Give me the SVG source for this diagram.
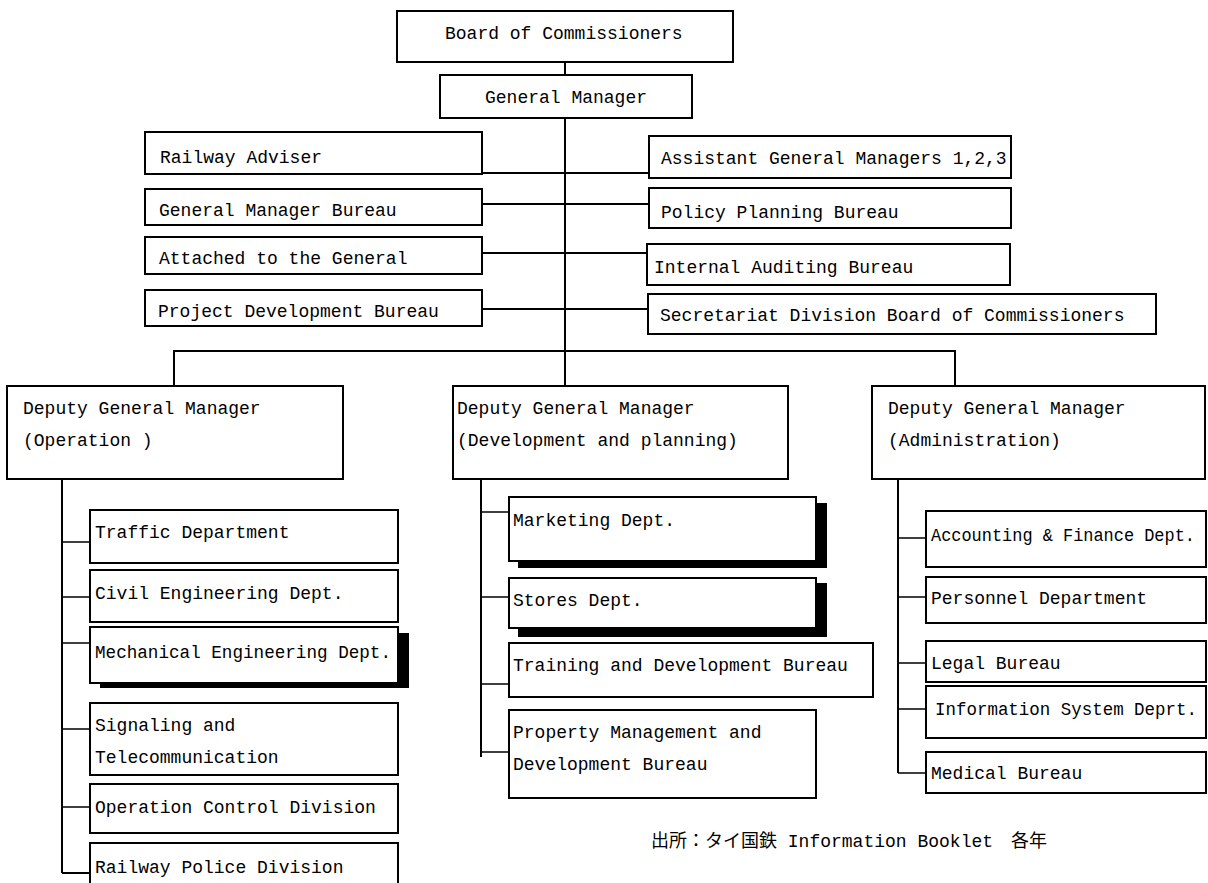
<svg xmlns="http://www.w3.org/2000/svg" width="1208" height="883" viewBox="0 0 1208 883">
<style>
.b{fill:#fff;stroke:#000;stroke-width:2}
.s{fill:#000;stroke:none}
.t{font-family:"Liberation Mono","DejaVu Sans Mono",monospace;font-size:18px;fill:#000}
.n{font-family:"Liberation Mono","Noto Sans CJK JP",monospace;font-size:18px;fill:#000}
.c{fill:none;stroke:#000;stroke-width:2}
.c2{fill:none;stroke:#000;stroke-width:1.5}
</style>
<rect width="1208" height="883" fill="#fff"/>
<g id="connectors">
<path class="c" d="M565 62V75M565 118V386M482 173H649M482 204H649M482 253H647M482 309H648M174 386V351H955V386"/>
<path class="c" d="M62 479V873M481 479V757M898 479V773"/>
<path class="c2" d="M62 542H90M62 597H90M62 643H90M62 729H90M62 807H90M481 512H509M481 597H509M481 684H509M481 752H509M898 538H926M898 597H926M898 663H926M898 709H926M898 773H926"/>
<path class="c" d="M62 873H90" stroke-width="2.5"/>
</g>
<g id="board"><rect class="b" x="397" y="11" width="336" height="51"/><text class="t" x="445" y="39">Board of Commissioners</text></g>
<g id="gm"><rect class="b" x="440" y="75" width="252" height="43"/><text class="t" x="485" y="103">General Manager</text></g>
<g id="railway-adviser"><rect class="b" x="145" y="132" width="337" height="42"/><text class="t" x="160" y="163">Railway Adviser</text></g>
<g id="gm-bureau"><rect class="b" x="145" y="189" width="337" height="36"/><text class="t" x="159" y="216">General Manager Bureau</text></g>
<g id="attached"><rect class="b" x="145" y="237" width="337" height="37"/><text class="t" x="159" y="264">Attached to the General</text></g>
<g id="project-dev"><rect class="b" x="145" y="290" width="337" height="36"/><text class="t" x="158" y="317">Project Development Bureau</text></g>
<g id="agm"><rect class="b" x="649" y="136" width="362" height="42"/><text class="t" x="661" y="164">Assistant General Managers 1,2,3</text></g>
<g id="policy"><rect class="b" x="649" y="188" width="362" height="40"/><text class="t" x="661" y="218">Policy Planning Bureau</text></g>
<g id="audit"><rect class="b" x="647" y="244" width="363" height="41"/><text class="t" x="654" y="273">Internal Auditing Bureau</text></g>
<g id="secretariat"><rect class="b" x="648" y="294" width="508" height="40"/><text class="t" x="660" y="321">Secretariat Division Board of Commissioners</text></g>
<g id="dgm-op"><rect class="b" x="7" y="386" width="336" height="93"/><text class="t" x="23" y="414">Deputy General Manager</text><text class="t" x="23" y="446">(Operation )</text></g>
<g id="dgm-dev"><rect class="b" x="453" y="386" width="335" height="93"/><text class="t" x="457" y="414">Deputy General Manager</text><text class="t" x="457" y="446">(Development and planning)</text></g>
<g id="dgm-admin"><rect class="b" x="872" y="386" width="333" height="93"/><text class="t" x="888" y="414">Deputy General Manager</text><text class="t" x="888" y="446">(Administration)</text></g>
<g id="traffic"><rect class="b" x="90" y="510" width="308" height="53"/><text class="t" x="95" y="538">Traffic Department</text></g>
<g id="civil"><rect class="b" x="90" y="570" width="308" height="52"/><text class="t" x="95" y="599">Civil Engineering Dept.</text></g>
<g id="mech"><rect class="s" x="100" y="633" width="309" height="55"/><rect class="b" x="90" y="627" width="308" height="56"/><text class="t" x="95" y="658" textLength="296" lengthAdjust="spacingAndGlyphs">Mechanical Engineering Dept.</text></g>
<g id="signaling"><rect class="b" x="90" y="703" width="308" height="72"/><text class="t" x="95" y="731">Signaling and</text><text class="t" x="95" y="763">Telecommunication</text></g>
<g id="op-control"><rect class="b" x="90" y="784" width="308" height="49"/><text class="t" x="95" y="813">Operation Control Division</text></g>
<g id="police"><rect class="b" x="90" y="843" width="308" height="60"/><text class="t" x="95" y="873">Railway Police Division</text></g>
<g id="marketing"><rect class="s" x="518" y="503" width="309" height="65"/><rect class="b" x="509" y="497" width="307" height="64"/><text class="t" x="513" y="526">Marketing Dept.</text></g>
<g id="stores"><rect class="s" x="518" y="583" width="309" height="54"/><rect class="b" x="509" y="578" width="307" height="50"/><text class="t" x="513" y="606">Stores Dept.</text></g>
<g id="training"><rect class="b" x="509" y="643" width="364" height="54"/><text class="t" x="513" y="671">Training and Development Bureau</text></g>
<g id="property"><rect class="b" x="509" y="710" width="307" height="88"/><text class="t" x="513" y="738">Property Management and</text><text class="t" x="513" y="770">Development Bureau</text></g>
<g id="accounting"><rect class="b" x="926" y="511" width="280" height="56"/><text class="t" x="931" y="541" textLength="264" lengthAdjust="spacingAndGlyphs">Accounting &amp; Finance Dept.</text></g>
<g id="personnel"><rect class="b" x="926" y="577" width="280" height="46"/><text class="t" x="931" y="604">Personnel Department</text></g>
<g id="legal"><rect class="b" x="926" y="641" width="280" height="41"/><text class="t" x="931" y="669">Legal Bureau</text></g>
<g id="info"><rect class="b" x="926" y="686" width="280" height="52"/><text class="t" x="935" y="715" textLength="262" lengthAdjust="spacingAndGlyphs">Information System Deprt.</text></g>
<g id="medical"><rect class="b" x="926" y="752" width="280" height="41"/><text class="t" x="931" y="779">Medical Bureau</text></g>
<text class="n" x="651" y="847">出所：タイ国鉄 Information Booklet　各年</text>
</svg>
